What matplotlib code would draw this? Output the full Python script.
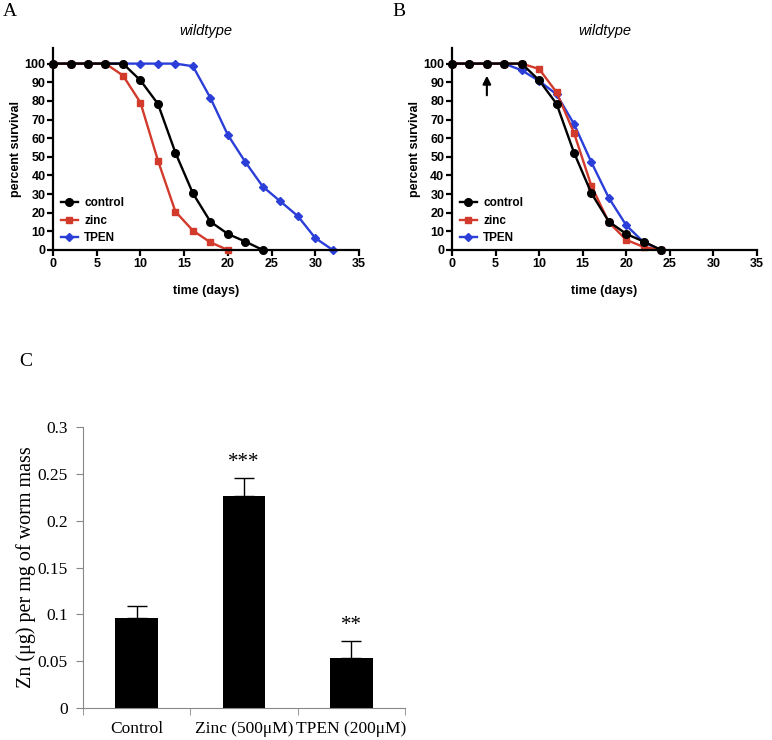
import matplotlib.pyplot as plt

# survival data (days, percent)
days = [0, 2, 4, 6, 8, 10, 12, 14, 16, 18, 20, 22, 24, 26, 28, 30, 32]

a_control = [100, 100, 100, 100, 100, 91, 78.4, 52.2, 30.4, 15.2, 8.6, 4.5, 0]
a_zinc = [100, 100, 100, 100, 93.6, 79.1, 48, 20.6, 10.4, 4.1, 0]
a_tpen = [100, 100, 100, 100, 100, 100, 100, 100, 98.6, 81.6, 61.7, 47.2, 34, 26.1, 18.2, 6.4, 0]

b_control = [100, 100, 100, 100, 100, 91, 78.4, 52.2, 30.4, 15.2, 8.6, 4.5, 0]
b_zinc = [100, 100, 100, 100, 100, 97.1, 84.6, 62.8, 34.3, 14.8, 5.4, 1.6, 0]
b_tpen = [100, 100, 100, 100, 96.4, 90.7, 83.5, 67.6, 47, 27.9, 13.2, 4.1, 0]

arrow_day = 4

# zinc content
conditions = ['Control', 'Zinc (500\u03bcM)', 'TPEN (200\u03bcM)']
zn_mean = [0.096, 0.226, 0.053]
zn_err = [0.013, 0.020, 0.019]
zn_stars = ['', '***', '**']

BLACK = '#000000'
RED = '#d23a2c'
BLUE = '#2b3fd8'
SANS = 'Liberation Sans'
SERIF = 'Liberation Serif'

fig = plt.figure(figsize=(7.72, 7.4), dpi=100)


def survival_panel(rect, control, zinc, tpen, letter, letter_x):
    ax = fig.add_axes(rect)
    series = [(control, BLACK, 'o', 5.5, 'control'),
              (zinc, RED, 's', 4.5, 'zinc'),
              (tpen, BLUE, 'D', 4.5, 'TPEN')]
    # draw back to front so control sits on top
    for vals, col, mk, ms, lab in reversed(series):
        ax.plot(days[:len(vals)], vals, color=col, marker=mk, markersize=ms,
                linewidth=1.7, label=lab, clip_on=False)
    ax.set_xlim(0, 35)
    ax.set_ylim(0, 108.4)
    ax.set_xticks(range(0, 36, 5))
    ax.set_yticks(range(0, 101, 10))
    for s in ['top', 'right']:
        ax.spines[s].set_visible(False)
    for s in ['left', 'bottom']:
        ax.spines[s].set_linewidth(1.6)
    ax.tick_params(width=1.6, length=4, labelsize=9, pad=1.5)
    for t in ax.get_xticklabels() + ax.get_yticklabels():
        t.set_fontfamily(SANS)
        t.set_fontweight('bold')
    ax.set_xlabel('time (days)', fontfamily=SANS, fontweight='bold', fontsize=9, labelpad=11)
    ax.set_ylabel('percent survival', fontfamily=SANS, fontweight='bold', fontsize=9, labelpad=2)
    ax.set_title('wildtype', fontfamily=SANS, fontstyle='italic', fontsize=10.5, pad=9)
    handles, labels = ax.get_legend_handles_labels()
    ax.legend(handles[::-1], labels[::-1], loc='lower left', bbox_to_anchor=(-0.01, -0.025),
              frameon=False, handlelength=1.5, handletextpad=0.5, labelspacing=0.48,
              prop={'family': SANS, 'weight': 'bold', 'size': 8.5})
    fig.text(letter_x, 0.9845, letter, fontfamily=SERIF, fontsize=14, va='center')
    return ax


ax_a = survival_panel([0.0687, 0.6622, 0.3963, 0.2730], a_control, a_zinc, a_tpen, 'A', 0.003)
ax_b = survival_panel([0.5855, 0.6622, 0.3951, 0.2730], b_control, b_zinc, b_tpen, 'B', 0.508)
ax_b.annotate('', xy=(arrow_day, 95), xytext=(arrow_day, 81.5),
              arrowprops=dict(arrowstyle='-|>', color='black', lw=1.5, mutation_scale=12))

# panel C
ax_c = fig.add_axes([0.1075, 0.0432, 0.4171, 0.3798])
pos = range(len(conditions))
ax_c.bar(pos, zn_mean, width=0.4, color='black')
ax_c.errorbar(pos, zn_mean, yerr=[[0] * len(zn_err), zn_err], fmt='none',
              ecolor='black', elinewidth=1, capsize=7, capthick=1)
for p, m, e, s in zip(pos, zn_mean, zn_err, zn_stars):
    if s:
        ax_c.text(p, m + e + 0.006, s, ha='center', va='bottom', fontfamily=SERIF, fontsize=15)
ax_c.set_xlim(-0.5, len(conditions) - 0.5)
ax_c.set_ylim(0, 0.3)
ax_c.set_yticks([0, 0.05, 0.1, 0.15, 0.2, 0.25, 0.3])
ax_c.set_yticklabels(['0', '0.05', '0.1', '0.15', '0.2', '0.25', '0.3'])
ax_c.set_xticks(list(pos))
ax_c.set_xticklabels(conditions)
ax_c.set_xticks([p - 0.5 for p in range(len(conditions) + 1)], minor=True)
ax_c.tick_params(axis='x', which='major', length=0, pad=9)
ax_c.tick_params(axis='x', which='minor', length=5, color='#888888')
ax_c.tick_params(axis='y', length=5, color='#888888', pad=6)
for s in ['top', 'right']:
    ax_c.spines[s].set_visible(False)
for s in ['left', 'bottom']:
    ax_c.spines[s].set_color('#888888')
    ax_c.spines[s].set_linewidth(0.8)
for t in ax_c.get_xticklabels() + ax_c.get_yticklabels():
    t.set_fontfamily(SERIF)
    t.set_fontsize(12.5)
ax_c.set_ylabel('Zn (\u03bcg) per mg of worm mass', fontfamily=SERIF, fontsize=14.5, labelpad=1)
fig.text(0.025, 0.5115, 'C', fontfamily=SERIF, fontsize=14, va='center')

fig.savefig('out.png', dpi=100)
